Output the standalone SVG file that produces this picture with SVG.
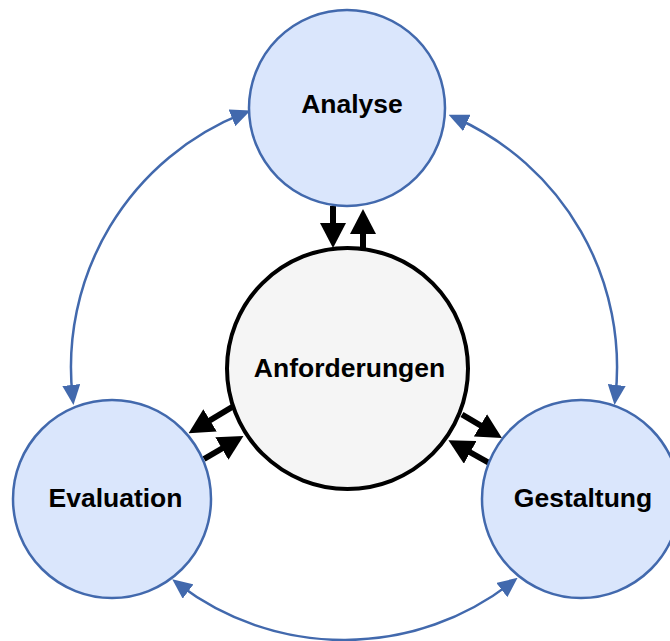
<svg xmlns="http://www.w3.org/2000/svg" width="670" height="641" viewBox="0 0 670 641">
<defs>
<style>
.node{fill:#dae6fc;stroke:#4269ad;stroke-width:2.5}
.core{fill:#f5f5f5;stroke:#000;stroke-width:4}
.lbl{font-family:"Liberation Sans",Arial,sans-serif;font-weight:bold;font-size:26.5px;fill:#000;text-anchor:middle}
.arc{fill:none;stroke:#4269ad;stroke-width:2.5;marker-start:url(#bh);marker-end:url(#bh)}
.blk{fill:none;stroke:#000;stroke-width:6;marker-end:url(#kh)}
</style>
<marker id="bh" markerUnits="userSpaceOnUse" markerWidth="20" markerHeight="18" refX="12" refY="9" orient="auto-start-reverse" viewBox="0 0 20 18">
<path d="M0,0 L20,9 L0,18 z" fill="#4269ad"/>
</marker>
<marker id="kh" markerUnits="userSpaceOnUse" markerWidth="25" markerHeight="26" refX="13" refY="13" orient="auto" viewBox="0 0 25 26">
<path d="M0,0 L25,13 L0,26 z" fill="#000"/>
</marker>
</defs>
<rect width="670" height="641" fill="#fff"/>
<g id="connectors">
<path class="arc" d="M243.1,113.4 A273,273 0 0 0 72.6,397.0"/>
<path class="arc" d="M455.9,118.0 A273,273 0 0 1 615.4,397.0"/>
<path class="arc" d="M511.3,582.7 A273,273 0 0 1 178.6,584.2"/>
<line class="blk" x1="333" y1="206" x2="333" y2="236"/>
<line class="blk" x1="363" y1="250" x2="363" y2="221"/>
<line class="blk" x1="233" y1="406.5" x2="198.9" y2="427"/>
<line class="blk" x1="204" y1="459" x2="233.1" y2="442"/>
<line class="blk" x1="462" y1="414.5" x2="491.6" y2="432"/>
<line class="blk" x1="491" y1="464" x2="458.9" y2="446"/>
</g>
<g id="analyse">
<circle class="node" cx="347" cy="108" r="98"/>
<text class="lbl" x="352" y="113">Analyse</text>
</g>
<g id="evaluation">
<circle class="node" cx="112" cy="499" r="99"/>
<text class="lbl" x="115.5" y="507">Evaluation</text>
</g>
<g id="gestaltung">
<circle class="node" cx="581" cy="499" r="99"/>
<text class="lbl" x="583" y="507">Gestaltung</text>
</g>
<g id="anforderungen">
<circle class="core" cx="347.5" cy="368.5" r="120.5"/>
<text class="lbl" x="349.5" y="377">Anforderungen</text>
</g>
</svg>
